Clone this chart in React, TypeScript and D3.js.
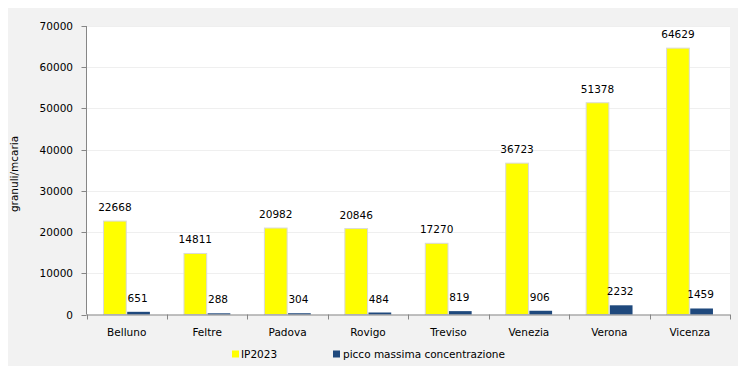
import React from "react";
import * as d3 from "d3";

const categories = ["Belluno", "Feltre", "Padova", "Rovigo", "Treviso", "Venezia", "Verona", "Vicenza"];
const ip2023 = [22668, 14811, 20982, 20846, 17270, 36723, 51378, 64629];
const picco = [651, 288, 304, 484, 819, 906, 2232, 1459];
const yTicks = [0, 10000, 20000, 30000, 40000, 50000, 60000, 70000];
const seriesNames = ["IP2023", "picco massima concentrazione"];
const seriesColors = ["#ffff00", "#1f497d"];

const W = 746;
const H = 374;
const FONT = "DejaVu Sans, Verdana, sans-serif";

export default function App() {
  const left = 86.5;
  const right = 730;
  const top = 26;
  const bottom = 314.5;
  const x = d3.scaleBand<string>().domain(categories).range([left, right]).paddingInner(0).paddingOuter(0);
  const y = d3.scaleLinear().domain([0, 70000]).range([bottom, top]);
  const sub = d3.scaleBand<number>().domain([0, 1]).range([0, x.bandwidth()]).paddingInner(0.04).paddingOuter(0.72);

  return (
    <div style={{ margin: -8, width: W, height: H }}>
      <svg width={W} height={H} style={{ display: "block", fontFamily: FONT }}>
        <rect x={1} y={1} width={W - 2.5} height={H - 2.5} fill="#f2f2f2" stroke="#7f7f7f" strokeWidth={2} />
        <rect x={left} y={top} width={right - left} height={bottom - top} fill="#ffffff" />
        {yTicks.map((t) => (
          <g key={t}>
            {t > 0 && (
              <line x1={left} x2={right} y1={Math.round(y(t)) + 0.5} y2={Math.round(y(t)) + 0.5} stroke="#efefef" strokeWidth={1} />
            )}
            <line x1={left - 5} x2={left} y1={Math.round(y(t)) + 0.5} y2={Math.round(y(t)) + 0.5} stroke="#868686" />
            <text x={73} y={y(t) + 4} textAnchor="end" fontSize={10.5} fill="#000">
              {t}
            </text>
          </g>
        ))}
        {categories.map((c, i) => {
          const x0 = x(c)!;
          const vals = [ip2023[i], picco[i]];
          return (
            <g key={c}>
              {vals.map((v, s) => {
                const bx = x0 + sub(s)!;
                const bw = sub.bandwidth();
                const by = y(v);
                return (
                  <g key={s}>
                    <rect
                      x={bx}
                      y={by}
                      width={bw}
                      height={bottom - by}
                      fill={seriesColors[s]}
                      stroke={s === 0 ? "#d9d9d9" : "none"}
                      strokeWidth={1}
                    />
                    <text x={bx + bw / 2 + (s === 1 ? -1 : 0)} y={by - 10} textAnchor="middle" fontSize={10.5} fill="#000">
                      {v}
                    </text>
                  </g>
                );
              })}
              <text x={x0 + x.bandwidth() / 2} y={336} textAnchor="middle" fontSize={10.5} fill="#000">
                {c}
              </text>
            </g>
          );
        })}
        <line x1={left} x2={left} y1={top} y2={bottom} stroke="#868686" />
        <line x1={left} x2={right} y1={bottom + 0.5} y2={bottom + 0.5} stroke="#868686" />
        {categories.concat([""]).map((_, i) => {
          const tx = Math.round(left + i * x.bandwidth()) + 0.5;
          return <line key={i} x1={tx} x2={tx} y1={bottom} y2={bottom + 5} stroke="#868686" />;
        })}
        <text transform={`translate(18,174) rotate(-90)`} textAnchor="middle" fontSize={10.5} fill="#000">
          granuli/mcaria
        </text>
        <g>
          <rect x={232} y={350.5} width={7} height={7} fill={seriesColors[0]} />
          <text x={241} y={358} fontSize={10.5} fill="#000">{seriesNames[0]}</text>
          <rect x={333} y={350.5} width={7} height={7} fill={seriesColors[1]} />
          <text x={343} y={358} fontSize={10.5} fill="#000">{seriesNames[1]}</text>
        </g>
      </svg>
    </div>
  );
}
